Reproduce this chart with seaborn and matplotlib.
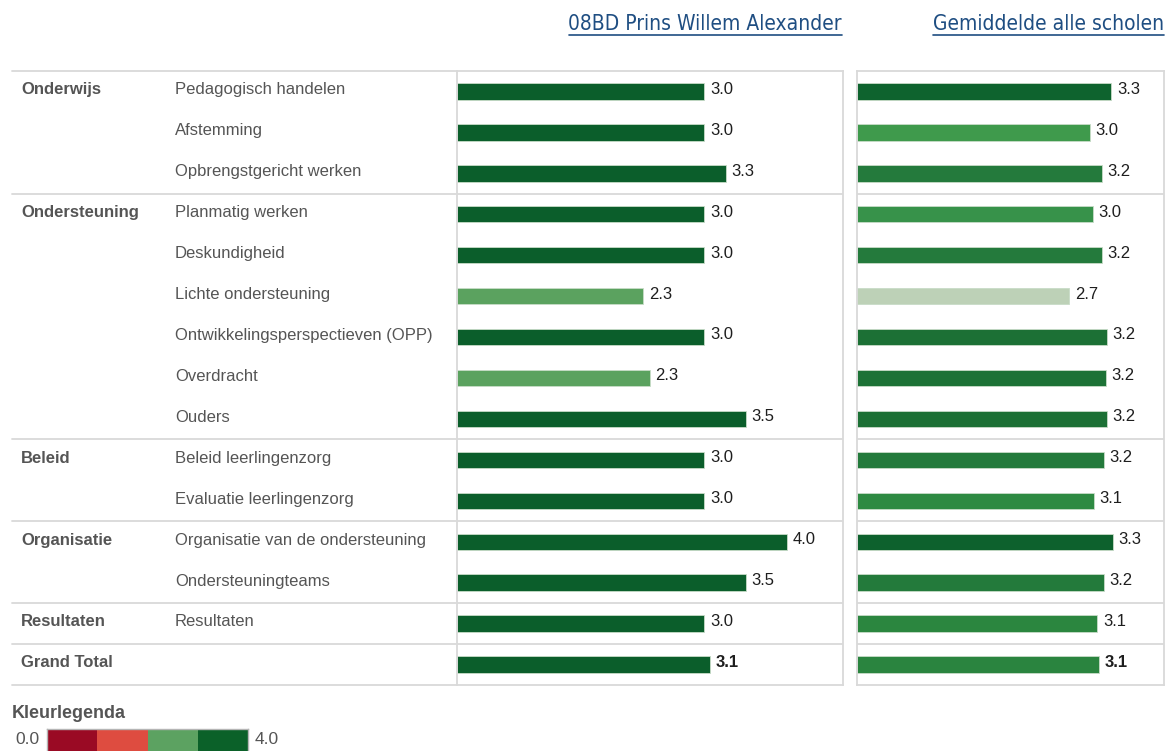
import matplotlib
matplotlib.use("Agg")
import matplotlib.pyplot as plt
from matplotlib.colors import ListedColormap
from matplotlib.lines import Line2D
import numpy as np
import pandas as pd
import seaborn as sns

# Data
groups = ["Onderwijs"] * 3 + ["Ondersteuning"] * 6 + ["Beleid"] * 2 \
    + ["Organisatie"] * 2 + ["Resultaten", "Grand Total"]
items = [
    "Pedagogisch handelen", "Afstemming", "Opbrengstgericht werken",
    "Planmatig werken", "Deskundigheid", "Lichte ondersteuning",
    "Ontwikkelingsperspectieven (OPP)", "Overdracht", "Ouders",
    "Beleid leerlingenzorg", "Evaluatie leerlingenzorg",
    "Organisatie van de ondersteuning", "Ondersteuningteams",
    "Resultaten", "",
]
school = [3.0, 3.0, 3.26, 3.0, 3.0, 2.26, 3.0, 2.34, 3.5,
          3.0, 3.0, 4.0, 3.5, 3.0, 3.07]
average = [3.28, 3.00, 3.16, 3.04, 3.16, 2.74, 3.22, 3.21, 3.22,
           3.18, 3.06, 3.30, 3.18, 3.10, 3.12]
school_colors = ["#0b5e2b"] * 5 + ["#5ba25f", "#0b5e2b", "#5ba25f"] + ["#0b5e2b"] * 7
average_colors = ["#0e632e", "#3f9a4c", "#247a3c", "#37924a", "#247a3c",
                  "#bdd1b7", "#1c7035", "#1d7236", "#1c7035", "#237a3b",
                  "#2e8a42", "#0d612d", "#237a3b", "#2b863f", "#2a843f"]
headers = ["08BD Prins Willem Alexander", "Gemiddelde alle scholen"]
legend_title = "Kleurlegenda"
legend_colors = ["#9a0a24", "#de4c40", "#5ca261", "#0b6129"]
legend_range = [0.0, 4.0]

sns.set_theme(style="white")
plt.rcParams["font.family"] = ["Liberation Sans", "DejaVu Sans"]

W, H = 1167, 751
fig = plt.figure(figsize=(W / 100, H / 100), dpi=100)


def px_axes(x0, y0, x1, y1):
    return fig.add_axes([x0 / W, 1 - y1 / H, (x1 - x0) / W, (y1 - y0) / H])


keys = [f"{g}|{it}" for g, it in zip(groups, items)]
df = pd.DataFrame({"key": keys, "group": groups, "item": items,
                   "school": school, "average": average})
n = len(df)
grid_col = "#d9d9d9"
text_col = "#555555"

# row boundaries between groups
bounds = [-0.5] + [i + 0.5 for i in range(n - 1) if groups[i] != groups[i + 1]] + [n - 0.5]

# label column
ax_lab = px_axes(12, 71, 456, 685)
ax_lab.set_xlim(0, 444)
ax_lab.set_ylim(n - 0.5, -0.5)
ax_lab.axis("off")
for b in bounds:
    ax_lab.axhline(b, color=grid_col, lw=1.3, clip_on=False)
for i, row in df.iterrows():
    if i == 0 or groups[i] != groups[i - 1]:
        ax_lab.text(9, i - 0.04, row["group"], fontsize=12, fontweight="bold",
                    color=text_col, va="center")
    if row["item"]:
        ax_lab.text(163, i - 0.04, row["item"], fontsize=12, color=text_col,
                    va="center")

# bar panels
panels = [
    (px_axes(457, 71, 843, 685), "school", school_colors, 4.68),
    (px_axes(857, 71, 1164, 685), "average", average_colors, 3.96),
]
for ax, col, colors, xmax in panels:
    sns.barplot(data=df, x=col, y="key", hue="key",
                palette=dict(zip(keys, colors)), saturation=1, width=0.4,
                legend=False, edgecolor="#c8dcc8", linewidth=0.6, ax=ax)
    ax.set_xlim(0, xmax)
    ax.set_ylim(n - 0.5, -0.5)
    ax.set_xlabel("")
    ax.set_ylabel("")
    ax.set_xticks([])
    ax.set_yticks([])
    for s in ax.spines.values():
        s.set_visible(True)
        s.set_color(grid_col)
        s.set_linewidth(1.3)
    for b in bounds[1:-1]:
        ax.axhline(b, color=grid_col, lw=1.3)
    for i, v in enumerate(df[col]):
        ax.annotate(f"{v:.1f}", (v, i), xytext=(4, 1.5),
                    textcoords="offset points", va="center", fontsize=12,
                    color="#1e1e1e",
                    fontweight="bold" if i == n - 1 else "normal")

# column headers, underlined
header_texts = []
for h, xr in zip(headers, [842, 1164]):
    t = fig.text(xr / W, 1 - 24 / H, h, ha="right", va="center",
                 fontsize=15, color="#1f4e82",
                 family=["DejaVu Sans"], fontstretch="condensed")
    header_texts.append(t)

# colour legend
fig.text(12 / W, 1 - 714 / H, legend_title, fontsize=13, fontweight="bold",
         color=text_col, va="center")
ax_leg = px_axes(47, 729, 248, 752)
sns.heatmap([list(range(len(legend_colors)))],
            cmap=ListedColormap(legend_colors), cbar=False,
            xticklabels=False, yticklabels=False, ax=ax_leg)
for s in ax_leg.spines.values():
    s.set_visible(True)
    s.set_color("#b5b5b5")
    s.set_linewidth(1.0)
fig.text(40 / W, 1 - 740 / H, f"{legend_range[0]:.1f}", fontsize=12.5,
         color=text_col, ha="right", va="center")
fig.text(255 / W, 1 - 740 / H, f"{legend_range[1]:.1f}", fontsize=12.5,
         color=text_col, ha="left", va="center")

fig.canvas.draw()
renderer = fig.canvas.get_renderer()
for t in header_texts:
    bb = t.get_window_extent(renderer)
    y = bb.y0 - 1
    fig.add_artist(Line2D([bb.x0 / W, bb.x1 / W], [y / H, y / H],
                          color="#1f4e82", lw=1.2, transform=fig.transFigure))

fig.savefig("out.png", dpi=100)
